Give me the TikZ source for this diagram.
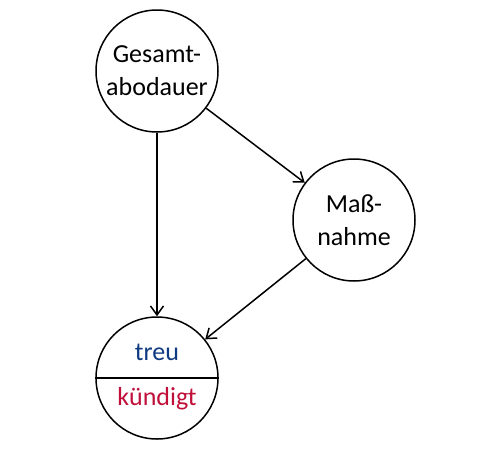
\documentclass[tikz,border=0pt]{standalone}
\usepackage{fontspec}
\setmainfont{Carlito}
\usetikzlibrary{arrows.meta}
\definecolor{treublue}{HTML}{0E3A82}
\definecolor{kuendred}{HTML}{C0103A}
\begin{document}
\begin{tikzpicture}[x=1pt,y=-1pt,
  var/.style={draw,circle,line width=1.5pt,minimum size=122pt,inner sep=0pt,align=center,font=\fontsize{26}{33}\selectfont},
  lbl/.style={font=\fontsize{26}{33}\selectfont,anchor=base,inner sep=0pt},
  conn/.style={line width=1.5pt,-{Straight Barb[length=9pt,width=13pt,line width=1.5pt]}}]
\useasboundingbox (0,0) rectangle (479,453);
\node[var] (top) at (157,71) {Gesamt-\\abodauer};
\node[var] (mid) at (354,220) {Maß-\\nahme};
\node[var] (bot) at (157,378) {};
\draw[line width=1.5pt] (bot.west) -- (bot.east);
\node[lbl,text=treublue] (treu) at (157,360) {treu};
\node[lbl,text=kuendred] (kuend) at (157,405) {kündigt};
\draw[conn] (top) -- (bot);
\draw[conn] (top) -- (mid);
\draw[conn] (mid) -- (bot);
\end{tikzpicture}
\end{document}
